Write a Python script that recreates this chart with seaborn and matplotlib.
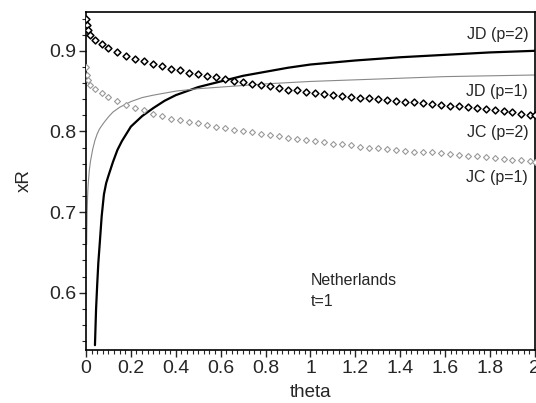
import numpy as np
import seaborn as sns
import matplotlib.pyplot as plt
from matplotlib.ticker import MultipleLocator

# JD curves (solid lines)
jd2_theta = [0.04, 0.045, 0.05, 0.055, 0.06, 0.07, 0.08, 0.09, 0.1, 0.12, 0.14, 0.16, 0.18, 0.2,
             0.25, 0.3, 0.35, 0.4, 0.5, 0.6, 0.7, 0.8, 0.9, 1.0, 1.2, 1.4, 1.6, 1.8, 2.0]
jd2_xr = [0.535, 0.58, 0.61, 0.637, 0.656, 0.695, 0.722, 0.736, 0.745, 0.762, 0.777, 0.788, 0.797, 0.806,
          0.819, 0.829, 0.838, 0.845, 0.855, 0.862, 0.869, 0.874, 0.879, 0.883, 0.888, 0.892, 0.895, 0.898, 0.900]

jd1_theta = [0.003, 0.005, 0.008, 0.01, 0.015, 0.02, 0.03, 0.04, 0.05, 0.06, 0.08, 0.1, 0.12, 0.15,
             0.2, 0.25, 0.3, 0.4, 0.5, 0.6, 0.8, 1.0, 1.2, 1.4, 1.6, 1.8, 2.0]
jd1_xr = [0.66, 0.70, 0.725, 0.735, 0.752, 0.763, 0.778, 0.789, 0.797, 0.803, 0.811, 0.818, 0.824, 0.830,
          0.837, 0.842, 0.845, 0.850, 0.853, 0.855, 0.859, 0.862, 0.864, 0.866, 0.868, 0.869, 0.870]

# JC curves (diamond markers)
jc_theta = [0, 0.005, 0.01, 0.02, 0.04, 0.07,
            0.10, 0.14, 0.18, 0.22, 0.26, 0.30, 0.34, 0.38, 0.42, 0.46, 0.50, 0.54,
            0.58, 0.62, 0.66, 0.70, 0.74, 0.78, 0.82, 0.86, 0.90, 0.94, 0.98, 1.02,
            1.06, 1.10, 1.14, 1.18, 1.22, 1.26, 1.30, 1.34, 1.38, 1.42, 1.46, 1.50,
            1.54, 1.58, 1.62, 1.66, 1.70, 1.74, 1.78, 1.82, 1.86, 1.90, 1.94, 1.98, 2.0]
jc2_xr = [0.940, 0.932, 0.926, 0.920, 0.914, 0.908,
          0.903, 0.898, 0.893, 0.890, 0.887, 0.884, 0.881, 0.878, 0.876, 0.873, 0.871, 0.869,
          0.867, 0.865, 0.863, 0.861, 0.859, 0.857, 0.856, 0.854, 0.852, 0.851, 0.849, 0.848,
          0.847, 0.845, 0.844, 0.843, 0.842, 0.841, 0.840, 0.839, 0.838, 0.837, 0.836, 0.835,
          0.834, 0.833, 0.832, 0.831, 0.830, 0.829, 0.828, 0.827, 0.825, 0.824, 0.822, 0.821, 0.820]
jc1_xr = [0.880, 0.870, 0.864, 0.858, 0.853, 0.848,
          0.843, 0.838, 0.833, 0.829, 0.826, 0.822, 0.819, 0.816, 0.814, 0.812, 0.810, 0.808,
          0.806, 0.804, 0.802, 0.800, 0.799, 0.797, 0.796, 0.794, 0.792, 0.791, 0.789, 0.788,
          0.787, 0.785, 0.784, 0.783, 0.781, 0.780, 0.779, 0.778, 0.777, 0.776, 0.775, 0.774,
          0.774, 0.773, 0.772, 0.771, 0.770, 0.769, 0.768, 0.767, 0.766, 0.765, 0.764, 0.763, 0.762]

curve_labels = ["JD (p=2)", "JD (p=1)", "JC (p=2)", "JC (p=1)"]
label_y = [0.920, 0.850, 0.799, 0.743]

sns.set_style("ticks")
plt.rcParams['font.family'] = ['Liberation Sans', 'DejaVu Sans']

fig = plt.figure(figsize=(5.36, 4.03), dpi=100)
ax = fig.add_axes([0.1604, 0.1315, 0.8376, 0.8385])

sns.lineplot(x=jd2_theta, y=jd2_xr, ax=ax, color="black", linewidth=1.6, estimator=None, sort=False)
sns.lineplot(x=jd1_theta, y=jd1_xr, ax=ax, color="#888888", linewidth=0.8, estimator=None, sort=False)
sns.scatterplot(x=jc_theta, y=jc2_xr, ax=ax, marker="D", s=12, facecolor="white",
                edgecolor="black", linewidth=1.1, zorder=3)
sns.scatterplot(x=jc_theta, y=jc1_xr, ax=ax, marker="D", s=9, facecolor="white",
                edgecolor="#999999", linewidth=0.8, zorder=3)

ax.set_xlim(0, 2)
ax.set_ylim(0.529, 0.948)
ax.xaxis.set_minor_locator(MultipleLocator(0.025))
ax.yaxis.set_minor_locator(MultipleLocator(0.02))
ax.set_xticks([0, 0.2, 0.4, 0.6, 0.8, 1, 1.2, 1.4, 1.6, 1.8, 2])
ax.set_xticklabels(["0", "0.2", "0.4", "0.6", "0.8", "1", "1.2", "1.4", "1.6", "1.8", "2"])
ax.set_yticks([0.6, 0.7, 0.8, 0.9])
ax.set_yticklabels(["0.6", "0.7", "0.8", "0.9"])
ax.tick_params(which="major", length=5, width=1, labelsize=14, direction="out", pad=2)
ax.tick_params(which="minor", length=3, width=0.8, direction="out")
for s in ax.spines.values():
    s.set_linewidth(1.2)
    s.set_color("black")

ax.set_xlabel("theta", fontsize=13.5, labelpad=5)
ax.set_ylabel("xR", fontsize=13.5, labelpad=12)

for lab, yy in zip(curve_labels, label_y):
    ax.text(1.97, yy, lab, fontsize=11.5, ha="right", va="center")
ax.text(1.0, 0.615, "Netherlands", fontsize=11.5, ha="left", va="center")
ax.text(1.0, 0.589, "t=1", fontsize=11.5, ha="left", va="center")

fig.savefig("out.png", dpi=100)
